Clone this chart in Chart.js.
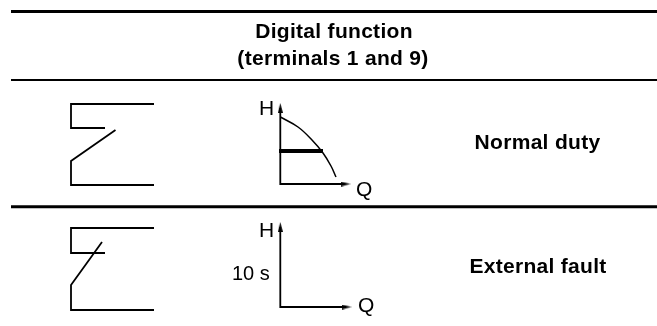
<!DOCTYPE html>
<html>
<head>
<meta charset="utf-8">
<title>Digital function</title>
<script src="https://cdn.jsdelivr.net/npm/chart.js@4"></script>
<style>
  html, body { margin: 0; padding: 0; background: #fff; }
  canvas { display: block; }
</style>
</head>
<body>
<canvas id="diagram" width="657" height="326"></canvas>
<script>
// table rules
const ruleTop = [[11, 11.5], [657, 11.5]];
const ruleHead = [[11, 80], [657, 80]];
const ruleMiddle = [[11, 206.7], [657, 206.7]];

// contact symbols
const contactNormalUpper = [[154, 104], [71, 104], [71, 128], [105, 128]];
const contactNormalLower = [[115.5, 130], [71, 161], [71, 185], [154, 185]];
const contactFaultUpper = [[154, 228], [71, 228], [71, 253], [105, 253]];
const contactFaultLower = [[102, 242], [71, 285], [71, 310], [154, 310]];

// H/Q sketches
const axesNormal = [[280.3, 108], [280.3, 184], [344, 184]];
const axesFault = [[280.3, 227], [280.3, 307], [346, 307]];
const pumpCurve = [[280.3, 117], [298, 127], [312, 140], [323, 153], [331, 166], [336, 177]];
const dutyLine = [[279, 151], [323, 151]];
const arrowsUp = [[280.3, 108], [280.3, 227]];
const arrowsRight = [[345.5, 184], [346.5, 307]];

// texts
const headerLines = ["Digital function", "(terminals 1 and 9)"];
const rowLabels = ["Normal duty", "External fault"];
const axisLetters = ["H", "Q", "H", "Q"];
const delayLabel = "10 s";

const toPoints = pairs => pairs.map(p => ({ x: p[0], y: p[1] }));

function lineSet(pairs, width) {
  return {
    data: toPoints(pairs),
    showLine: true,
    borderColor: "#000",
    borderWidth: width,
    pointRadius: 0,
    borderJoinStyle: "miter",
    fill: false
  };
}

// slim arrow head, pointing up before rotation
function arrowHead() {
  const cv = document.createElement("canvas");
  cv.width = 5;
  cv.height = 10;
  const g = cv.getContext("2d");
  g.beginPath();
  g.moveTo(2.5, 0);
  g.lineTo(5, 10);
  g.lineTo(0, 10);
  g.closePath();
  g.fillStyle = "#000";
  g.fill();
  return cv;
}

function arrowSet(pairs, rotation) {
  return {
    data: toPoints(pairs),
    showLine: false,
    pointStyle: arrowHead(),
    pointRotation: rotation,
    pointRadius: 5
  };
}

const curveSet = lineSet(pumpCurve, 1.5);
curveSet.tension = 0.4;

const textPlugin = {
  id: "diagramText",
  afterDatasetsDraw(chart) {
    const c = chart.ctx, sx = chart.scales.x, sy = chart.scales.y;
    const put = (str, x, y, align, font, spacing) => {
      c.font = font;
      c.letterSpacing = spacing || "0px";
      c.textAlign = align;
      c.textBaseline = "alphabetic";
      c.fillStyle = "#000";
      c.fillText(str, sx.getPixelForValue(x), sy.getPixelForValue(y));
    };
    const bold = 'bold 21px "Liberation Sans"';
    const regular = '20px "Liberation Sans"';
    const big = '21px "Liberation Sans"';
    put(headerLines[0], 334, 38, "center", bold, "0.3px");
    put(headerLines[1], 333, 65, "center", bold, "0.3px");
    put(rowLabels[0], 537.5, 149, "center", bold, "0.3px");
    put(rowLabels[1], 538, 273, "center", bold, "0.3px");
    put(axisLetters[0], 259, 115, "left", big);
    put(axisLetters[1], 356, 196, "left", big);
    put(axisLetters[2], 259, 236.5, "left", big);
    put(axisLetters[3], 358, 312, "left", big);
    put(delayLabel, 232, 280, "left", regular);
  }
};

new Chart(document.getElementById("diagram").getContext("2d"), {
  type: "scatter",
  data: {
    datasets: [
      lineSet(ruleTop, 3),
      lineSet(ruleHead, 2),
      lineSet(ruleMiddle, 3),
      lineSet(contactNormalUpper, 1.8),
      lineSet(contactNormalLower, 1.8),
      lineSet(contactFaultUpper, 1.8),
      lineSet(contactFaultLower, 1.8),
      lineSet(axesNormal, 1.8),
      lineSet(axesFault, 1.8),
      curveSet,
      lineSet(dutyLine, 4),
      arrowSet(arrowsUp, 0),
      arrowSet(arrowsRight, 90)
    ]
  },
  options: {
    responsive: false,
    animation: false,
    layout: { padding: 0, autoPadding: false },
    plugins: { legend: { display: false }, tooltip: { enabled: false } },
    scales: {
      x: { type: "linear", display: false, min: 0, max: 657 },
      y: { type: "linear", display: false, min: 0, max: 326, reverse: true }
    }
  },
  plugins: [textPlugin]
});
</script>
</body>
</html>
